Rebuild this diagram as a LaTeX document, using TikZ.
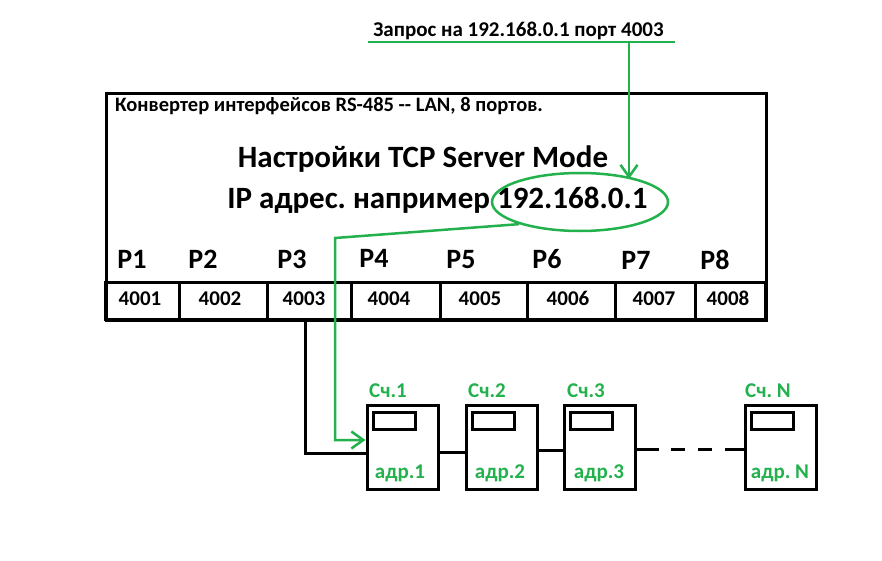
\documentclass[tikz,border=0pt]{standalone}
\usepackage{fontspec}
\setmainfont{Carlito}
\usetikzlibrary{arrows.meta,shapes.geometric}
\definecolor{pgreen}{RGB}{34,177,76}
\newcommand{\fsz}[1]{\fontsize{#1}{#1}\selectfont\bfseries\frenchspacing}
\tikzset{
  blk/.style={draw=black,line width=3pt},
  grn/.style={draw=pgreen,line width=2.5pt},
  garrow/.style={grn,-{Straight Barb[length=12pt,width=17pt,line width=2.5pt]}},
  cell/.style={blk,minimum height=37pt,inner sep=0pt},
  num/.style={font=\fsz{21},inner sep=0pt,anchor=base},
  plabel/.style={font=\fsz{28},inner sep=0pt,anchor=base},
  meter/.style={blk,minimum width=71pt,minimum height=84pt,inner sep=0pt},
  disp/.style={draw=black,line width=3pt,minimum width=42pt,minimum height=17pt,inner sep=0pt},
  mlabel/.style={text=pgreen,font=\fsz{21},inner sep=0pt,anchor=base},
}
\begin{document}
\begin{tikzpicture}[x=1pt,y=-1pt]
\useasboundingbox (0,0) rectangle (882,561);
% request
\node[font=\fsz{21},inner sep=0pt,anchor=base] (req) at (518.5,37) {Запрос на 192.168.0.1 порт 4003};
\coordinate (ulA) at (368,42);
\coordinate (ulB) at (675,42);
\coordinate (ulC) at (629,42);
\draw[grn] (ulA) -- (ulB);
% main box
\node[blk,minimum width=660pt,minimum height=227pt,anchor=north west,inner sep=0pt] (conv) at (105,92) {};
\node[font=\fsz{20.5},inner sep=0pt,anchor=base west] (ttl) at (115,112) {Конвертер интерфейсов RS-485 -{}- LAN, 8 портов.};
\node[font=\fsz{31},inner sep=0pt,anchor=base] (h1) at (423,168) {Настройки TCP Server Mode};
\node[font=\fsz{31},inner sep=0pt,anchor=base] (h2) at (437.5,208) {IP адрес. например 192.168.0.1};
\node[grn,ellipse,minimum width=176pt,minimum height=58pt,inner sep=0pt] (ip) at (580,202) {};
\coordinate (ipTop) at (629,179);
\draw[garrow] (ulC) -- (ipTop);
% ports
\foreach \n/\a/\b/\px/\nx/\py in {1/105/179/132/140/268,2/179/267/203/220/268,3/267/351/292/304/268,4/351/440/374/389/267,5/440/527/461/480/268,6/527/615/547/568/268,7/615/695/636/654/269,8/695/765/715/728/269}{
  \pgfmathsetmacro{\w}{\b-\a}
  \pgfmathsetmacro{\c}{(\a+\b)/2}
  \node[cell,minimum width=\w pt] (c\n) at (\c,300.5) {};
  \node[num] (n\n) at (\nx,305) {400\n};
  \node[plabel] (p\n) at (\px,\py) {P\n};
}
% meters
\foreach \k/\cx/\lx/\ax/\lab/\adr in {1/402.5/388/400/Сч.1/адр.1,2/501.5/487/500/Сч.2/адр.2,3/600/586/599/Сч.3/адр.3,N/781/768/780/Сч. N/адр. N}{
  \node[meter] (m\k) at (\cx,447) {};
  \node[disp,anchor=north west] (d\k) at ([xshift=6pt,yshift=-7pt]m\k.north west) {};
  \node[mlabel] (l\k) at (\lx,397) {\lab};
  \node[mlabel] (a\k) at (\ax,478) {\adr};
}
% black bus
\coordinate (tap) at (305,319);
\draw[blk] (tap) |- ([yshift=-6pt]m1.west);
\draw[blk] ([yshift=-5pt]m1.east) -- ([yshift=-5pt]m2.west);
\draw[blk] ([yshift=-3pt]m2.east) -- ([yshift=-3pt]m3.west);
\draw[blk,dash pattern=on 22pt off 12pt on 14pt off 13pt on 14pt off 13pt on 40pt] ([yshift=-2pt]m3.east) -- ([yshift=-2pt]mN.west);
% green route
\coordinate (gA) at (335,238);
\draw[garrow] (ip.200) -- (gA) |- ([yshift=7pt]m1.west);
\end{tikzpicture}
\end{document}
